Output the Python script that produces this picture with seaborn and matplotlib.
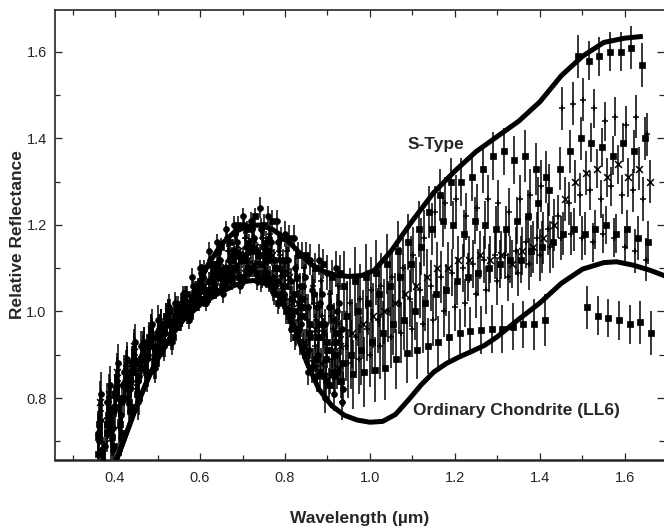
import numpy as np
import pandas as pd
import matplotlib
matplotlib.use("Agg")
import matplotlib.pyplot as plt
import seaborn as sns
from matplotlib.ticker import MultipleLocator, FormatStrFormatter

sns.set_style("ticks")
plt.rcParams["font.family"] = ["Liberation Sans", "DejaVu Sans"]
nan = np.nan

# ---------------- model curves ----------------
S_WL = [0.397, 0.42, 0.45, 0.48, 0.50, 0.53, 0.56, 0.59, 0.62, 0.65, 0.68, 0.71, 0.74, 0.77,
        0.80, 0.83, 0.86, 0.89, 0.92, 0.95, 0.98, 1.01, 1.05, 1.10, 1.15, 1.20, 1.25, 1.30,
        1.35, 1.40, 1.45, 1.50, 1.55, 1.60, 1.642]
S_REF = [0.64, 0.70, 0.78, 0.85, 0.89, 0.94, 0.99, 1.05, 1.11, 1.155, 1.183, 1.197, 1.20, 1.19,
         1.17, 1.14, 1.11, 1.093, 1.084, 1.081, 1.083, 1.095, 1.14, 1.21, 1.275, 1.325, 1.37, 1.405,
         1.44, 1.485, 1.545, 1.59, 1.622, 1.632, 1.636]

OC_WL = [0.397, 0.42, 0.45, 0.48, 0.50, 0.53, 0.56, 0.60, 0.64, 0.68, 0.71, 0.73, 0.76, 0.79,
         0.82, 0.85, 0.88, 0.91, 0.94, 0.97, 1.00, 1.03, 1.06, 1.09, 1.12, 1.15, 1.18, 1.21,
         1.24, 1.27, 1.30, 1.35, 1.40, 1.45, 1.50, 1.55, 1.58, 1.62, 1.66, 1.70]
OC_REF = [0.64, 0.70, 0.78, 0.85, 0.89, 0.94, 0.98, 1.015, 1.04, 1.06, 1.07, 1.072, 1.062, 1.03,
          0.97, 0.885, 0.82, 0.782, 0.76, 0.749, 0.744, 0.746, 0.762, 0.795, 0.83, 0.86, 0.88, 0.895,
          0.908, 0.922, 0.942, 0.982, 1.02, 1.065, 1.098, 1.113, 1.115, 1.107, 1.095, 1.08]

# ---------------- visible spectra ----------------
VIS_WL = [0.36, 0.38, 0.40, 0.42, 0.44, 0.46, 0.48, 0.50, 0.52, 0.54, 0.56, 0.58, 0.60, 0.62,
          0.64, 0.66, 0.68, 0.70, 0.72, 0.74, 0.76, 0.78, 0.80, 0.82, 0.84, 0.86, 0.88, 0.90, 0.92]
VIS_ERR = [0.05, 0.045, 0.045, 0.04, 0.04, 0.035, 0.035, 0.035, 0.03, 0.025, 0.02, 0.02, 0.02, 0.02,
           0.02, 0.02, 0.02, 0.02, 0.02, 0.025, 0.025, 0.025, 0.03, 0.03, 0.03, 0.035, 0.035, 0.04, 0.04]
VIS_SHIFT = [0.000, 0.010, 0.005, 0.015, 0.000, 0.010, 0.005, 0.015, 0.0025, 0.0125, 0.0075, 0.0175,
             0.0025, 0.0125, 0.0075, 0.0175, 0.000, 0.010]
VIS_MARK = ["o", "s", "+", "o", "s", "+", "x", "o", "s", "+", "o", "s", "o", "s", "+", "o", "s", "x"]
V1 = [0.72, 0.79, 0.81, 0.86, 0.87, 0.92, 0.93, 0.98, 0.99, 1.02, 1.04, 1.08, 1.10, 1.14, 1.16, 1.19, 1.20, 1.22, 1.21, 1.24, 1.22, 1.21, 1.18, 1.17, 1.13, 1.12, 1.12, 1.09, 1.10]
V2 = [0.68, 0.73, 0.80, 0.82, 0.88, 0.89, 0.94, 0.95, 1.00, 1.00, 1.04, 1.05, 1.10, 1.11, 1.15, 1.16, 1.20, 1.19, 1.22, 1.20, 1.21, 1.17, 1.17, 1.13, 1.13, 1.10, 1.11, 1.08, 1.09]
V3 = [0.76, 0.79, 0.85, 0.86, 0.91, 0.91, 0.96, 0.96, 1.00, 1.00, 1.04, 1.04, 1.09, 1.09, 1.14, 1.14, 1.18, 1.17, 1.19, 1.17, 1.18, 1.14, 1.14, 1.10, 1.10, 1.06, 1.07, 1.04, 1.06]
V4 = [0.65, 0.73, 0.76, 0.82, 0.84, 0.89, 0.90, 0.95, 0.96, 1.00, 1.00, 1.04, 1.05, 1.09, 1.09, 1.13, 1.13, 1.16, 1.14, 1.16, 1.12, 1.12, 1.07, 1.06, 1.01, 1.01, 0.97, 0.98, 0.96]
V5 = [0.71, 0.74, 0.81, 0.83, 0.88, 0.89, 0.94, 0.95, 0.99, 0.99, 1.03, 1.03, 1.07, 1.07, 1.11, 1.10, 1.13, 1.12, 1.14, 1.11, 1.12, 1.07, 1.06, 1.00, 0.99, 0.94, 0.94, 0.91, 0.93]
V6 = [0.63, 0.70, 0.73, 0.80, 0.82, 0.87, 0.89, 0.94, 0.95, 0.99, 0.99, 1.03, 1.03, 1.07, 1.07, 1.10, 1.09, 1.12, 1.10, 1.11, 1.07, 1.06, 1.00, 0.98, 0.93, 0.92, 0.88, 0.89, 0.87]
V7 = [0.79, 0.81, 0.86, 0.87, 0.92, 0.92, 0.96, 0.96, 1.00, 0.99, 1.03, 1.02, 1.06, 1.05, 1.09, 1.08, 1.11, 1.09, 1.11, 1.08, 1.08, 1.03, 1.01, 0.95, 0.93, 0.88, 0.88, 0.85, 0.87]
V8 = [0.61, 0.68, 0.71, 0.77, 0.79, 0.85, 0.87, 0.92, 0.93, 0.98, 0.98, 1.02, 1.02, 1.05, 1.04, 1.07, 1.06, 1.09, 1.07, 1.08, 1.04, 1.03, 0.96, 0.93, 0.86, 0.85, 0.80, 0.81, 0.79]
V9 = [0.74, 0.76, 0.82, 0.83, 0.88, 0.89, 0.93, 0.94, 0.98, 0.98, 1.02, 1.01, 1.05, 1.04, 1.08, 1.07, 1.10, 1.08, 1.10, 1.07, 1.07, 1.02, 1.00, 0.94, 0.92, 0.87, 0.86, 0.83, 0.86]
V10 = [0.66, 0.73, 0.75, 0.81, 0.83, 0.88, 0.89, 0.94, 0.95, 1.00, 1.00, 1.04, 1.04, 1.08, 1.08, 1.12, 1.11, 1.13, 1.11, 1.12, 1.08, 1.08, 1.03, 1.02, 0.98, 0.98, 0.95, 0.96, 0.94]
V11 = [0.81, 0.83, 0.88, 0.89, 0.93, 0.93, 0.97, 0.97, 1.01, 1.00, 1.04, 1.04, 1.08, 1.08, 1.12, 1.12, 1.16, 1.15, 1.17, 1.15, 1.16, 1.12, 1.12, 1.08, 1.08, 1.04, 1.04, 1.01, 1.02]
V12 = [0.62, 0.69, 0.72, 0.78, 0.80, 0.86, 0.88, 0.93, 0.94, 0.99, 0.99, 1.03, 1.03, 1.08, 1.08, 1.12, 1.12, 1.15, 1.13, 1.14, 1.10, 1.09, 1.03, 1.01, 0.95, 0.94, 0.89, 0.90, 0.88]
V13 = [0.70, 0.75, 0.80, 0.84, 0.86, 0.90, 0.92, 0.96, 0.98, 1.01, 1.03, 1.06, 1.09, 1.12, 1.14, 1.17, 1.18, 1.20, 1.19, 1.19, 1.17, 1.16, 1.12, 1.10, 1.06, 1.05, 1.02, 1.01, 1.00]
V14 = [0.64, 0.71, 0.74, 0.79, 0.81, 0.86, 0.88, 0.93, 0.94, 0.98, 0.99, 1.02, 1.03, 1.06, 1.06, 1.09, 1.08, 1.10, 1.09, 1.09, 1.05, 1.04, 0.98, 0.96, 0.90, 0.89, 0.85, 0.86, 0.84]
V15 = [0.77, 0.80, 0.84, 0.88, 0.90, 0.93, 0.95, 0.97, 0.99, 1.01, 1.02, 1.05, 1.07, 1.10, 1.11, 1.14, 1.15, 1.17, 1.16, 1.17, 1.14, 1.13, 1.09, 1.07, 1.03, 1.02, 0.99, 0.99, 0.97]
V16 = [0.69, 0.77, 0.79, 0.84, 0.85, 0.90, 0.91, 0.95, 0.96, 0.99, 1.00, 1.02, 1.03, 1.05, 1.06, 1.08, 1.08, 1.10, 1.08, 1.09, 1.06, 1.04, 0.99, 0.97, 0.91, 0.90, 0.84, 0.85, 0.82]
V17 = [0.67, 0.72, 0.78, 0.80, 0.86, 0.87, 0.92, 0.92, 0.97, 0.97, 1.01, 1.01, 1.05, 1.05, 1.10, 1.09, 1.14, 1.13, 1.15, 1.13, 1.13, 1.10, 1.09, 1.04, 1.03, 0.97, 0.97, 0.93, 0.95]
V18 = [0.75, 0.78, 0.83, 0.85, 0.89, 0.90, 0.94, 0.94, 0.98, 0.98, 1.02, 1.02, 1.06, 1.06, 1.10, 1.10, 1.14, 1.12, 1.15, 1.12, 1.13, 1.09, 1.08, 1.02, 1.01, 0.96, 0.95, 0.91, 0.92]
VIS_SPECTRA = [V1, V2, V3, V4, V5, V6, V7, V8, V9, V10, V11, V12, V13, V14, V15, V16, V17, V18]

# ---------------- near-infrared spectra ----------------
NIR_WL = [0.940, 0.965, 0.990, 1.015, 1.040, 1.065, 1.090, 1.115, 1.140, 1.165, 1.190, 1.215, 1.240, 1.265,
          1.290, 1.315, 1.340, 1.365, 1.390, 1.415, 1.440, 1.465, 1.490, 1.515, 1.540, 1.565, 1.590, 1.615, 1.640]
NIR_ERR = [0.08, 0.08, 0.075, 0.075, 0.07, 0.07, 0.065, 0.065, 0.06, 0.06, 0.055, 0.055, 0.055, 0.055,
           0.055, 0.055, 0.055, 0.06, 0.06, 0.06, 0.05, 0.05, 0.05, 0.045, 0.045, 0.045, 0.045, 0.05, 0.05]
NIR_SHIFT = [0.000, 0.012, 0.006, 0.018, 0.003, 0.015, 0.009, 0.021]
NIR_MARK = ["s", "+", "s", "x", "+", "s", "+", "s"]
T1 = [1.06, 1.07, 1.08, 1.09, 1.11, 1.14, 1.16, 1.19, 1.23, 1.27, 1.30, 1.30, 1.31, 1.33, 1.36, 1.37, 1.35, 1.36, 1.33, 1.31, nan, nan, 1.59, 1.58, 1.59, 1.60, 1.60, 1.61, 1.57]
T2 = [1.02, 1.03, 1.05, 1.06, 1.08, 1.10, 1.13, 1.17, 1.23, 1.25, 1.26, 1.22, 1.24, 1.26, 1.25, 1.23, 1.26, 1.27, 1.29, nan, 1.47, 1.48, 1.49, 1.47, 1.44, 1.45, 1.43, 1.45, 1.41]
T3 = [0.99, 1.00, 1.02, 1.04, 1.06, 1.08, 1.11, 1.15, 1.19, 1.21, 1.20, 1.18, 1.21, 1.20, 1.19, 1.19, 1.21, 1.22, 1.25, 1.28, 1.33, 1.37, 1.40, 1.39, 1.38, 1.36, 1.39, 1.37, 1.40]
T4 = [0.95, 0.97, 0.99, 1.00, 1.02, 1.04, 1.06, 1.08, 1.10, 1.10, 1.12, 1.12, 1.13, 1.12, 1.13, 1.11, 1.14, 1.15, 1.17, 1.20, 1.26, 1.30, 1.32, 1.33, 1.31, 1.34, 1.31, 1.33, 1.30]
T5 = [0.92, 0.94, 0.96, 0.98, 1.00, 1.02, 1.03, 1.05, 1.06, 1.08, 1.09, 1.10, 1.11, 1.12, 1.13, 1.13, 1.14, 1.16, 1.17, 1.19, 1.22, 1.25, 1.27, 1.28, 1.26, 1.29, 1.27, 1.28, 1.26]
T6 = [0.90, 0.91, 0.93, 0.95, 0.97, 0.98, 1.00, 1.02, 1.04, 1.05, 1.07, 1.08, 1.09, 1.10, 1.11, 1.12, 1.12, 1.14, 1.15, 1.16, 1.18, 1.19, 1.18, 1.19, 1.20, 1.18, 1.19, 1.17, 1.16]
T7 = [0.88, 0.89, 0.90, 0.92, 0.94, 0.95, 0.96, 0.97, 0.98, 1.00, 1.01, 1.02, 1.04, 1.05, 1.07, 1.08, 1.09, 1.11, 1.13, 1.15, 1.17, 1.18, 1.17, 1.16, 1.18, 1.17, 1.15, 1.14, 1.12]
T8 = [0.855, 0.86, 0.865, 0.87, 0.89, 0.905, 0.91, 0.92, 0.93, 0.94, 0.95, 0.955, 0.957, 0.96, 0.96, 0.965, 0.97, 0.97, 0.98, nan, nan, nan, 1.01, 0.99, 0.985, 0.98, 0.97, 0.975, 0.95]
NIR_SPECTRA = [T1, T2, T3, T4, T5, T6, T7, T8]

X_TICKS = [0.4, 0.6, 0.8, 1.0, 1.2, 1.4, 1.6]
Y_TICKS = [0.8, 1.0, 1.2, 1.4, 1.6]

# ---------------- build tables ----------------
rows = []
for i, vals in enumerate(VIS_SPECTRA):
    for wl, r, e in zip(VIS_WL, vals, VIS_ERR):
        rows.append(dict(wl=wl + VIS_SHIFT[i], refl=r, err=e, marker=VIS_MARK[i]))
for i, vals in enumerate(NIR_SPECTRA):
    for wl, r, e in zip(NIR_WL, vals, NIR_ERR):
        rows.append(dict(wl=wl + NIR_SHIFT[i], refl=r, err=e, marker=NIR_MARK[i]))
df = pd.DataFrame(rows).dropna()

s_df = pd.DataFrame(dict(wl=S_WL, refl=S_REF))
oc_df = pd.DataFrame(dict(wl=OC_WL, refl=OC_REF))

# ---------------- figure ----------------
W, H = 664, 530
fig = plt.figure(figsize=(W / 100, H / 100), dpi=100)
ax = fig.add_axes([55 / W, 70 / H, 609 / W, 450 / H])

ax.vlines(df["wl"], df["refl"] - df["err"], df["refl"] + df["err"], color="black", lw=1.1, zorder=2)
for m, g in df.groupby("marker"):
    filled = m in ("s", "o")
    sns.scatterplot(data=g, x="wl", y="refl", marker=m, color="black",
                    s=18 if filled else 24, linewidth=0.5 if filled else 1.1,
                    edgecolor="black" if filled else None,
                    ax=ax, legend=False, zorder=3)

for cdf in (s_df, oc_df):
    sns.lineplot(data=cdf, x="wl", y="refl", sort=False, estimator=None, color="black",
                 lw=3.6, ax=ax, zorder=5, solid_capstyle="butt")

ax.text(1.089, 1.385, "S-Type", ha="left", va="center", fontsize=12.5, fontweight="bold", zorder=6)
ax.text(1.101, 0.772, "Ordinary Chondrite (LL6)", ha="left", va="center", fontsize=12.5,
        fontweight="bold", zorder=6)

ax.set_xlim(0.2588, 1.6918)
ax.set_ylim(0.6567, 1.697)
ax.set_xticks(X_TICKS)
ax.set_yticks(Y_TICKS)
ax.xaxis.set_minor_locator(MultipleLocator(0.1))
ax.yaxis.set_minor_locator(MultipleLocator(0.1))
ax.xaxis.set_major_formatter(FormatStrFormatter("%.1f"))
ax.yaxis.set_major_formatter(FormatStrFormatter("%.1f"))
ax.tick_params(which="both", direction="in", top=True, right=True, width=0.9, labelsize=10.5)
ax.tick_params(which="major", length=5)
ax.tick_params(which="minor", length=3.5)
ax.tick_params(axis="x", which="major", pad=8)
ax.tick_params(axis="y", which="major", pad=6)
for side in ("left", "top"):
    ax.spines[side].set_linewidth(1.2)
ax.spines["bottom"].set_linewidth(1.8)
ax.spines["right"].set_visible(False)

ax.set_xlabel("Wavelength (µm)", fontsize=12.5, fontweight="bold", labelpad=19)
ax.set_ylabel("Relative Reflectance", fontsize=12.5, fontweight="bold", labelpad=1)

fig.savefig("out.png", dpi=100)
